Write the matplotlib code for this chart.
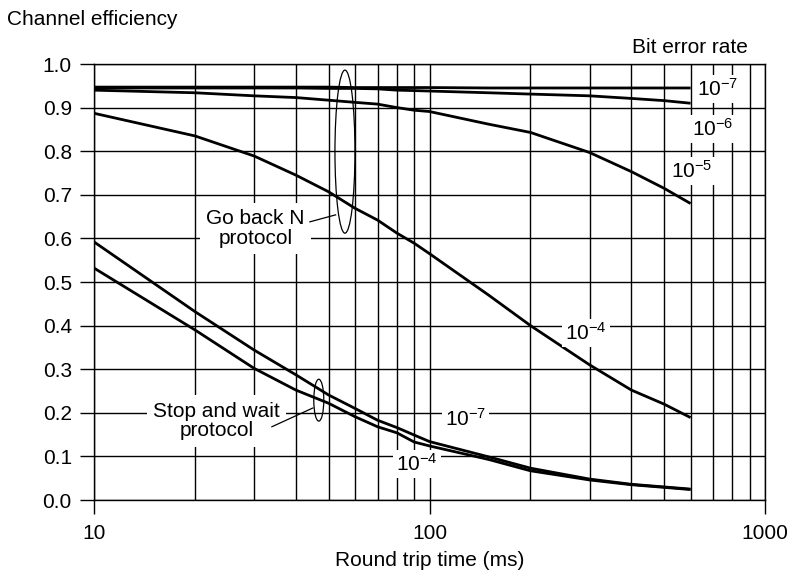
import matplotlib
matplotlib.use("Agg")
from matplotlib import pyplot as plt
from matplotlib.patches import Ellipse
from matplotlib.ticker import FixedLocator, NullFormatter

plt.rcParams['font.family'] = ['Liberation Sans', 'DejaVu Sans']
plt.rcParams['mathtext.fontset'] = 'custom'
plt.rcParams['mathtext.rm'] = 'Liberation Sans'
plt.rcParams['mathtext.it'] = 'Liberation Sans:italic'

# round trip time (ms)
rtt = [10, 20, 30, 40, 50, 60, 70, 80, 90, 100, 150, 200, 300, 400, 500, 600]

# go back N protocol, one curve per bit error rate
gbn_1e7 = [0.947, 0.947, 0.947, 0.947, 0.947, 0.946, 0.946, 0.946, 0.946, 0.946,
           0.945, 0.945, 0.945, 0.945, 0.945, 0.945]
gbn_1e6 = [0.945, 0.945, 0.945, 0.945, 0.944, 0.944, 0.943, 0.940, 0.939, 0.938,
           0.934, 0.931, 0.927, 0.921, 0.916, 0.910]
gbn_1e5 = [0.940, 0.934, 0.927, 0.923, 0.917, 0.912, 0.908, 0.900, 0.894, 0.891,
           0.862, 0.843, 0.797, 0.753, 0.715, 0.680]
gbn_1e4 = [0.887, 0.835, 0.789, 0.745, 0.707, 0.669, 0.642, 0.612, 0.589, 0.565,
           0.470, 0.400, 0.310, 0.252, 0.220, 0.189]

# stop and wait protocol
sw_1e7 = [0.592, 0.432, 0.344, 0.287, 0.241, 0.210, 0.183, 0.166, 0.149, 0.134,
          0.099, 0.073, 0.048, 0.036, 0.030, 0.025]
sw_1e4 = [0.532, 0.390, 0.302, 0.252, 0.222, 0.191, 0.168, 0.154, 0.133, 0.124,
          0.093, 0.067, 0.046, 0.035, 0.029, 0.024]

yticks = [0.0, 0.1, 0.2, 0.3, 0.4, 0.5, 0.6, 0.7, 0.8, 0.9, 1.0]
xticks = [10, 100, 1000]

fig = plt.figure(figsize=(7.9, 5.72), dpi=100)
ax = fig.add_axes([94 / 790, 72 / 572, 671 / 790, 436 / 572])

curve = dict(color='black', lw=2.0, solid_capstyle='butt')
for ys in [gbn_1e7, gbn_1e6, gbn_1e5, gbn_1e4, sw_1e7, sw_1e4]:
    ax.plot(rtt, ys, **curve)

ax.set_xscale('log')
ax.set_xlim(10, 1000)
ax.set_ylim(0, 1.0)
ax.set_yticks(yticks)
ax.set_yticklabels(['%.1f' % v for v in yticks])
ax.xaxis.set_major_locator(FixedLocator(xticks))
ax.set_xticklabels([str(v) for v in xticks])
minors = [m * d for d in (10, 100) for m in range(2, 10)]
ax.xaxis.set_minor_locator(FixedLocator(minors))
ax.xaxis.set_minor_formatter(NullFormatter())

ax.set_axisbelow(True)
ax.grid(True, which='both', color='black', lw=1.0)
for s in ax.spines.values():
    s.set_color('black')
    s.set_linewidth(1.0)
ax.tick_params(axis='both', which='major', length=10, width=1.0,
               labelsize=15, color='black')
ax.tick_params(axis='x', which='major', pad=7)
ax.tick_params(axis='y', which='major', pad=6)
ax.tick_params(axis='x', which='minor', length=0)

box = dict(boxstyle='square,pad=0.15', fc='white', ec='none')
lab = dict(fontsize=15, bbox=box, zorder=4)
ax.text(628, 0.943, r'$\mathregular{10^{-7}}$', ha='left', va='center', **lab)
ax.text(605, 0.851, r'$\mathregular{10^{-6}}$', ha='left', va='center', **lab)
ax.text(525, 0.755, r'$\mathregular{10^{-5}}$', ha='left', va='center', **lab)
ax.text(293, 0.383, r'$\mathregular{10^{-4}}$', ha='center', va='center', **lab)
ax.text(128, 0.187, r'$\mathregular{10^{-7}}$', ha='center', va='center', **lab)
ax.text(91.5, 0.083, r'$\mathregular{10^{-4}}$', ha='center', va='center', **lab)

proto = dict(fontsize=15, ha='center', va='center', linespacing=1.05, zorder=4,
             bbox=dict(boxstyle='square,pad=0.3', fc='white', ec='none'))
ax.text(30.3, 0.622, 'Go back N\nprotocol', **proto)
ax.text(23.2, 0.181, 'Stop and wait\nprotocol', **proto)

# leaders and the ellipses grouping each protocol's curves
ax.plot([44.0, 52.5], [0.638, 0.654], color='black', lw=0.9, zorder=5)
ax.plot([33.9, 44.9], [0.168, 0.211], color='black', lw=0.9, zorder=5)
ax.add_patch(Ellipse((0.374, 0.799), 0.0298, 0.374, transform=ax.transAxes,
                     fill=False, ec='black', lw=0.9, zorder=5))
ax.add_patch(Ellipse((0.335, 0.229), 0.0149, 0.096, transform=ax.transAxes,
                     fill=False, ec='black', lw=0.9, zorder=5))

fig.text(7 / 790, 1 - 25 / 572, 'Channel efficiency', fontsize=15,
         ha='left', va='baseline')
fig.text(748 / 790, 1 - 53 / 572, 'Bit error rate', fontsize=15,
         ha='right', va='baseline')
fig.text(430 / 790, 1 - 566 / 572, 'Round trip time (ms)', fontsize=15,
         ha='center', va='baseline')

fig.savefig('out.png', dpi=100)
